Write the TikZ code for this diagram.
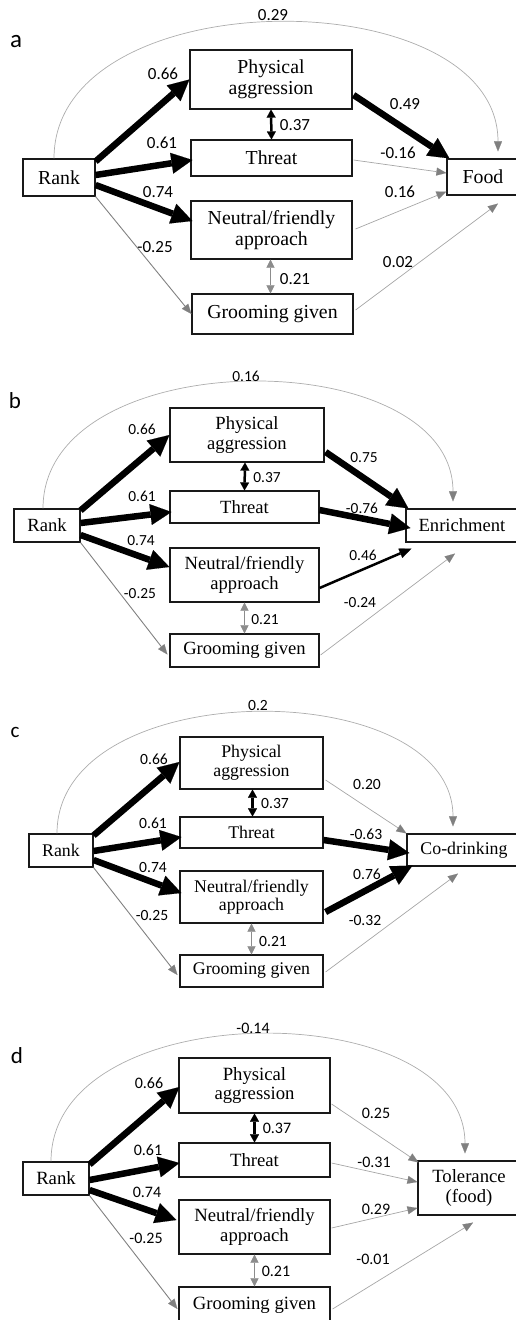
\documentclass[tikz,border=0pt]{standalone}
\usepackage{fontspec}
\setmainfont{Liberation Serif}
\newfontfamily\numf{Carlito}
\usetikzlibrary{arrows.meta,calc}
\tikzset{
 box/.style={draw=black!90, line width=1.15pt, align=center, inner sep=0pt},
 bf/.style={font=\fontsize{#1}{#1}\selectfont\setlength{\baselineskip}{1.05\baselineskip}},
 thk/.style={line width=6.5pt, -{Triangle[length=21pt,width=21pt,line width=0.1pt]}},
 med/.style={line width=2.5pt, -{Triangle[length=12pt,width=10pt,line width=0.1pt]}},
 dbl/.style={line width=2.5pt, {Triangle[length=8pt,width=9pt,line width=0.1pt]}-{Triangle[length=8pt,width=9pt,line width=0.1pt]}},
 gdbl/.style={draw=black!45, line width=1.2pt, {Triangle[length=8pt,width=8pt,line width=0.1pt]}-{Triangle[length=8pt,width=8pt,line width=0.1pt]}},
 gar/.style={draw=black!50, line width=0.9pt, -{Triangle[length=10pt,width=8pt,line width=0.1pt]}},
 gli/.style={draw=black!35, line width=0.7pt, -{Triangle[length=10pt,width=8pt,line width=0.1pt,color=black!50]}},
 curv/.style={draw=black!32, line width=0.7pt, -{Triangle[length=10pt,width=8pt,line width=0.1pt,color=black!50]}},
 num/.style={font=\numf\fontsize{#1}{#1}\selectfont, inner sep=0pt},
}
\begin{document}
\begin{tikzpicture}[x=1pt,y=-1pt]
\useasboundingbox (0,0) rectangle (516,1320);
% ---------------- panel a ----------------
\node[num=25] (aLet) at (16,42) {a};
\node[box,bf=19.8,minimum width=72pt,minimum height=37pt] (aR) at (59,177.5) {Rank};
\node[box,bf=19.8,minimum width=162pt,minimum height=59pt] (aPA) at (271,79.5) {Physical\\aggression};
\node[box,bf=19.8,minimum width=161pt,minimum height=36pt] (aT) at (271.5,158) {Threat};
\node[box,bf=19.8,minimum width=161pt,minimum height=58pt] (aN) at (271.5,230) {Neutral/friendly\\approach};
\node[box,bf=19.8,minimum width=161pt,minimum height=40pt] (aG) at (272.5,314) {Grooming given};
\node[box,bf=19.8,minimum width=72pt,minimum height=36pt] (aO) at (483,177) {Food};
\draw[curv] ($(aR.north)+(-5,0)$) .. controls +(0,-180) and +(0,-173) .. ($(aO.north)+(15,-7)$);
\draw[thk] ($(aR.north east)+(0,3)$) -- (aPA.west);
\draw[thk] ($(aR.east)+(0,-2.5)$) -- ($(aT.west)+(2,2)$);
\draw[thk] ($(aR.east)+(0,7.5)$) -- ($(aN.west)+(2,-9)$);
\draw[gar] (aR.south east) -- (aG.west);
\draw[dbl] (aPA.south) -- (aT.north);
\draw[gdbl] ($(aN.south)+(-1,0)$) -- ($(aG.north)+(-2,0)$);
\draw[thk] ($(aPA.east)+(1,15.5)$) -- ($(aO.north west)+(3,0)$);
\draw[gli] ($(aT.east)+(1,2)$) -- ($(aO.west)+(0,-4)$);
\draw[gli] ($(aN.east)+(3,-1)$) -- ($(aO.south west)+(0,-4)$);
\draw[gli] ($(aG.east)+(2,-4)$) -- ($(aO.south)+(15,8)$);
\node[num=17] (aL0) at (273,15) {0.29};
\node[num=17] (aL1) at (163,74) {0.66};
\node[num=17] (aL2) at (162,143) {0.61};
\node[num=17] (aL3) at (158,192) {0.74};
\node[num=17] (aL4) at (155,247) {-0.25};
\node[num=17] (aL5) at (295,125) {0.37};
\node[num=17] (aL6) at (295,279) {0.21};
\node[num=17] (aL7) at (405,104) {0.49};
\node[num=17] (aL8) at (398,153) {-0.16};
\node[num=17] (aL9) at (400,192) {0.16};
\node[num=17] (aL10) at (398,262) {0.02};
% ---------------- panel b ----------------
\node[num=23] (bLet) at (15,401) {b};
\node[box,bf=18.6,minimum width=66pt,minimum height=33pt] (bR) at (47,525.5) {Rank};
\node[box,bf=18.6,minimum width=154pt,minimum height=54pt] (bPA) at (247,435) {Physical\\aggression};
\node[box,bf=18.6,minimum width=149pt,minimum height=32pt] (bT) at (244.5,507) {Threat};
\node[box,bf=18.6,minimum width=149pt,minimum height=54pt] (bN) at (244.5,575) {Neutral/friendly\\approach};
\node[box,bf=18.6,minimum width=149pt,minimum height=33pt] (bG) at (244.5,650.5) {Grooming given};
\node[box,bf=18.6,minimum width=112pt,minimum height=33pt] (bE) at (462,525.5) {Enrichment};
\draw[curv] ($(bR.north)+(-4,0)$) .. controls +(0,-167) and +(0,-160) .. ($(bE.north)+(-9,-7)$);
\draw[thk] ($(bR.north east)+(0,2)$) -- (bPA.west);
\draw[thk] ($(bR.east)+(0,-2.5)$) -- ($(bT.west)+(2,5)$);
\draw[thk] ($(bR.east)+(0,9.5)$) -- ($(bN.west)+(0,-8)$);
\draw[gar] (bR.south east) -- ($(bG.west)+(-2,4)$);
\draw[dbl] ($(bPA.south)+(-2,0)$) -- (bT.north);
\draw[gdbl] (bN.south) -- (bG.north);
\draw[thk] ($(bPA.east)+(1,17)$) -- ($(bE.north west)+(3,0)$);
\draw[thk] ($(bT.east)+(0,3)$) -- ($(bE.west)+(5,2.5)$);
\draw[med] ($(bN.east)+(0,13)$) -- ($(bE.south west)+(6,6)$);
\draw[gli] ($(bG.east)+(1,4.5)$) -- ($(bE.south)+(-7,11)$);
\node[num=15.4] (bL0) at (246,376) {0.16};
\node[num=15.4] (bL1) at (142,429) {0.66};
\node[num=15.4] (bL2) at (142,496) {0.61};
\node[num=15.4] (bL3) at (141,541) {0.74};
\node[num=15.4] (bL4) at (140,594) {-0.25};
\node[num=15.4] (bL5) at (267,478) {0.37};
\node[num=15.4] (bL6) at (265,620) {0.21};
\node[num=15.4] (bL7) at (364,458) {0.75};
\node[num=15.4] (bL8) at (362,508) {-0.76};
\node[num=15.4] (bL9) at (363,555) {0.46};
\node[num=15.4] (bL10) at (360,603) {-0.24};
% ---------------- panel c ----------------
\node[num=21] (cLet) at (15,732) {c};
\node[box,bf=17.8,minimum width=64pt,minimum height=33pt] (cR) at (61,850.5) {Rank};
\node[box,bf=17.8,minimum width=143pt,minimum height=52pt] (cPA) at (251.5,763) {Physical\\aggression};
\node[box,bf=17.8,minimum width=143pt,minimum height=31pt] (cT) at (251.5,832.5) {Threat};
\node[box,bf=17.8,minimum width=143pt,minimum height=52pt] (cN) at (251.5,897) {Neutral/friendly\\approach};
\node[box,bf=17.8,minimum width=143pt,minimum height=32pt] (cG) at (251.5,971) {Grooming given};
\node[box,bf=17.8,minimum width=114pt,minimum height=32pt] (cO) at (464,850) {Co-drinking};
\draw[curv] ($(cR.north)+(-4,0)$) .. controls +(0,-160) and +(0,-153) .. ($(cO.north)+(-11,-7)$);
\draw[thk] ($(cR.north east)+(0,2)$) -- ($(cPA.west)+(0,-1)$);
\draw[thk] ($(cR.east)+(0,0.5)$) -- ($(cT.west)+(2,4.5)$);
\draw[thk] ($(cR.east)+(0,9.5)$) -- ($(cN.west)+(2,-4)$);
\draw[gar] (cR.south east) -- ($(cG.west)+(-2,4)$);
\draw[dbl] ($(cPA.south)+(1,0)$) -- ($(cT.north)+(1,0)$);
\draw[gdbl] (cN.south) -- (cG.north);
\draw[gli] ($(cPA.east)+(2,17)$) -- (cO.north west);
\draw[thk] ($(cT.east)+(0,7.5)$) -- ($(cO.west)+(3,3)$);
\draw[thk] ($(cN.east)+(2,15)$) -- ($(cO.south west)+(6,-1)$);
\draw[gli] ($(cG.east)+(2,1)$) -- ($(cO.south)+(-6,7)$);
\node[num=15.6] (cL0) at (258,705) {0.2};
\node[num=15.6] (cL1) at (154,759) {0.66};
\node[num=15.6] (cL2) at (153,823) {0.61};
\node[num=15.6] (cL3) at (153,867) {0.74};
\node[num=15.6] (cL4) at (152,915) {-0.25};
\node[num=15.6] (cL5) at (275,803) {0.37};
\node[num=15.6] (cL6) at (273,941) {0.21};
\node[num=15.6] (cL7) at (367,784) {0.20};
\node[num=15.6] (cL8) at (366,834) {-0.63};
\node[num=15.6] (cL9) at (367,874) {0.76};
\node[num=15.6] (cL10) at (365,920) {-0.32};
% ---------------- panel d ----------------
\node[num=23] (dLet) at (17,1056) {d};
\node[box,bf=18.7,minimum width=66pt,minimum height=33pt] (dR) at (56,1178.5) {Rank};
\node[box,bf=18.7,minimum width=151pt,minimum height=55pt] (dPA) at (254.5,1085.5) {Physical\\aggression};
\node[box,bf=18.7,minimum width=151pt,minimum height=34pt] (dT) at (254.5,1160) {Threat};
\node[box,bf=18.7,minimum width=151pt,minimum height=54pt] (dN) at (254.5,1227) {Neutral/friendly\\approach};
\node[box,bf=18.7,minimum width=151pt,minimum height=36pt] (dG) at (254.5,1305) {Grooming given};
\node[box,bf=18.7,minimum width=102pt,minimum height=54pt] (dO) at (469,1188) {Tolerance\\(food)};
\draw[curv] ($(dR.north)+(-5,0)$) .. controls +(0,-168) and +(0,-160) .. ($(dO.north)+(-4,-7)$);
\draw[thk] ($(dR.north east)+(0,3)$) -- ($(dPA.west)+(1,1.5)$);
\draw[thk] ($(dR.east)+(0,1.5)$) -- ($(dT.west)+(1,3)$);
\draw[thk] ($(dR.east)+(0,11.5)$) -- ($(dN.west)+(-2,-7)$);
\draw[gar] (dR.south east) -- ($(dG.west)+(-1,4)$);
\draw[dbl] (dPA.south) -- (dT.north);
\draw[gdbl] (dN.south) -- (dG.north);
\draw[gli] ($(dPA.east)+(1,18.5)$) -- ($(dO.north west)+(1,2)$);
\draw[gli] ($(dT.east)+(1,3)$) -- ($(dO.west)+(0,-6)$);
\draw[gli] ($(dN.east)+(1,1)$) -- ($(dO.west)+(0,20)$);
\draw[gli] ($(dG.east)+(2,4)$) -- ($(dO.south)+(4,7)$);
\node[num=16] (dL0) at (253,1028) {-0.14};
\node[num=16] (dL1) at (149,1083) {0.66};
\node[num=16] (dL2) at (148,1150) {0.61};
\node[num=16] (dL3) at (147,1192) {0.74};
\node[num=16] (dL4) at (146,1238) {-0.25};
\node[num=16] (dL5) at (277,1128) {0.37};
\node[num=16] (dL6) at (276,1271) {0.21};
\node[num=16] (dL7) at (376,1113) {0.25};
\node[num=16] (dL8) at (374,1162) {-0.31};
\node[num=16] (dL9) at (376,1209) {0.29};
\node[num=16] (dL10) at (373,1259) {-0.01};
\end{tikzpicture}
\end{document}
